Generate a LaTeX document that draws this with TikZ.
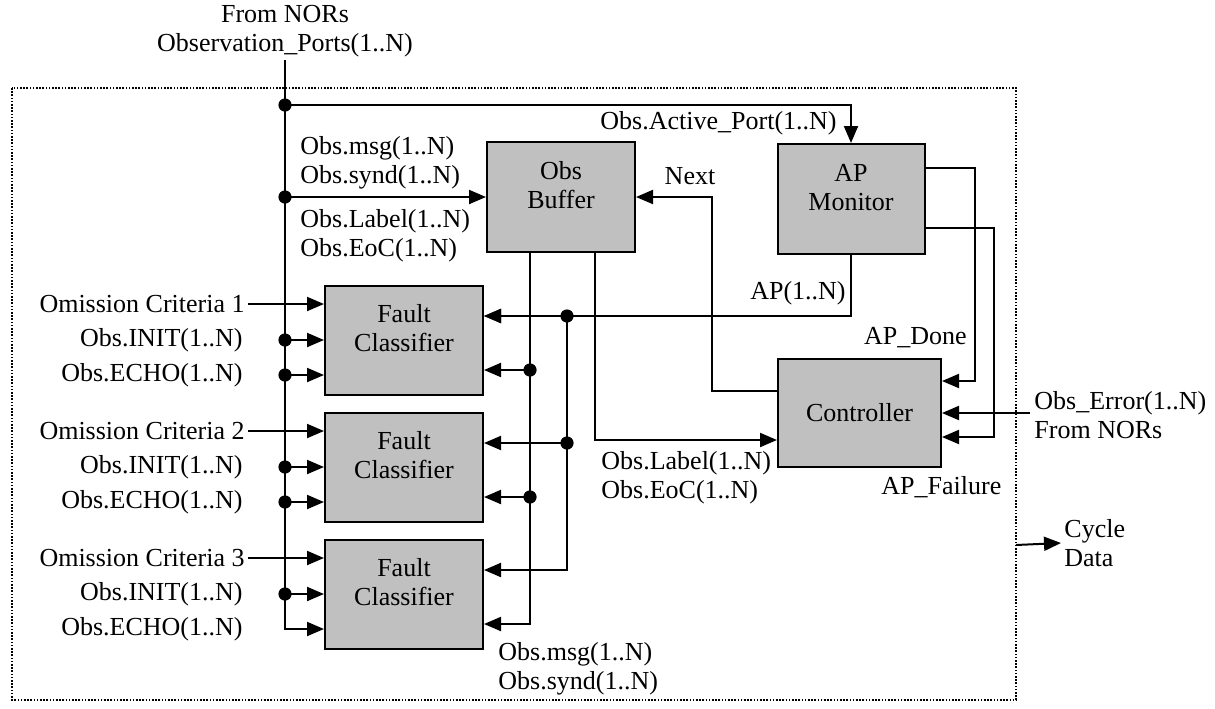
\documentclass[tikz,border=0pt]{standalone}
\usepackage{fontspec}
\setmainfont{Liberation Serif}
\usetikzlibrary{arrows.meta}
\definecolor{boxgray}{RGB}{192,192,192}
\tikzset{
  blk/.style={draw,line width=1pt,fill=boxgray,inner sep=0pt,align=center},
  blktwo/.style={blk,text depth=12pt},
  lbl/.style={inner sep=1.5pt,align=left},
  wire/.style={line width=1pt},
  sig/.style={line width=1pt,-{Triangle[length=8.5pt,width=7pt]}},
  frame/.style={line width=0.8pt,dash pattern=on 0.8pt off 0.8pt}
}
\newcommand{\jdot}[1]{\fill (#1) circle[radius=3.3pt];}

\begin{document}
\begin{tikzpicture}[x=0.5pt,y=-0.5pt,font=\fontsize{13}{14.5}\selectfont]
\useasboundingbox (0,0) rectangle (1215,708);
\draw[frame] (12,88) rectangle (1016,700);
\node[blktwo,minimum width=74pt,minimum height=55pt] (buf) at (561,197) {Obs\\Buffer};
\node[blktwo,minimum width=73.5pt,minimum height=55pt] (apm) at (851,199) {AP\\Monitor};
\node[blk,minimum width=81.5pt,minimum height=54pt] (ctl) at (859.5,413) {Controller};
\foreach \k/\yy in {1/340,2/467,3/594}{
  \node[blktwo,minimum width=79pt,minimum height=54.5pt] (fc\k) at (404,\yy) {Fault\\Classifier};
  \coordinate (oc\k) at ([yshift=18pt]fc\k.west);
  \coordinate (in\k) at ([yshift=0pt]fc\k.west);
  \coordinate (ec\k) at ([yshift=-17.5pt]fc\k.west);
  \coordinate (ap\k) at ([yshift=12pt]fc\k.east);
  \coordinate (ms\k) at ([yshift=-15pt]fc\k.east);
  \node[lbl,anchor=east] (om\k) at ([xshift=-38pt]oc\k) {Omission Criteria \k};
  \node[lbl,anchor=east] (init\k) at ([xshift=-39pt]in\k) {Obs.INIT(1..N)};
  \node[lbl,anchor=east] (echo\k) at ([xshift=-39pt]ec\k) {Obs.ECHO(1..N)};
  \draw[sig] (om\k) -- (oc\k);
}
\node[lbl,align=center] (nors) at (285,31) {From NORs\\Observation\_Ports(1..N)};
\coordinate (tapap) at (285,105);
\coordinate (tapbuf) at (285,197);
\coordinate (apx) at (567,314);
\coordinate (bufm) at ([xshift=-15.5pt]buf.south);
\coordinate (bufl) at ([xshift=17pt]buf.south);
\coordinate (errin) at (1030,413);
\coordinate (cyc) at (1016,545);

\draw[sig] (nors.south) |- (ec3);
\draw[sig] (tapap) -| (apm.north);
\draw[sig] (tapbuf) -- (buf.west);
\foreach \k in {1,2,3}{
  \draw[sig] (in\k -| tapap) -- (in\k);
  \jdot{in\k -| tapap}
}
\foreach \k in {1,2}{
  \draw[sig] (ec\k -| tapap) -- (ec\k);
  \jdot{ec\k -| tapap}
  \draw[sig] (ms\k -| bufm) -- (ms\k);
  \jdot{ms\k -| bufm}
  \draw[sig] (ap\k -| apx) -- (ap\k);
  \jdot{ap\k -| apx}
}
\jdot{tapap}
\jdot{tapbuf}
\draw[sig] (apm.south) |- (ap1);
\draw[sig] (ap1 -| apx) |- (ap3);
\draw[sig] (bufm) |- (ms3);
\draw[sig] (bufl) |- ([yshift=-13.5pt]ctl.west);
\draw[sig] ([yshift=11pt]ctl.west) -- ++(-65,0) |- (buf.east);
\draw[sig] ([yshift=15.5pt]apm.east) -- ++(49,0) |- ([yshift=16pt]ctl.east);
\draw[sig] ([yshift=-14.5pt]apm.east) -- ++(68,0) |- ([yshift=-12pt]ctl.east);
\draw[sig] (errin) -- (ctl.east);

\node[lbl,anchor=west] (msgin) at (297,162.5) {Obs.msg(1..N)\\Obs.synd(1..N)};
\node[lbl,anchor=west] (labin) at (297,236) {Obs.Label(1..N)\\Obs.EoC(1..N)};
\node[lbl,anchor=east] (actport) at (840,123) {Obs.Active\_Port(1..N)};
\node[lbl] (next) at (690,176) {Next};
\node[lbl,anchor=east] (aplbl) at (849,293) {AP(1..N)};
\node[lbl,anchor=east] (apdone) at (970,338) {AP\_Done};
\node[lbl,anchor=west] (apfail) at (878,487) {AP\_Failure};
\node[lbl,anchor=west] (labout) at (598,477.5) {Obs.Label(1..N)\\Obs.EoC(1..N)};
\node[lbl,anchor=west] (msgout) at (495,668.5) {Obs.msg(1..N)\\Obs.synd(1..N)};
\node[lbl,anchor=west] (err) at (1031,415.5) {Obs\_Error(1..N)\\From NORs};
\node[lbl,anchor=west] (cycle) at (1061,543) {Cycle\\Data};
\draw[sig] (cyc) -- (cycle.west);
\end{tikzpicture}
\end{document}
